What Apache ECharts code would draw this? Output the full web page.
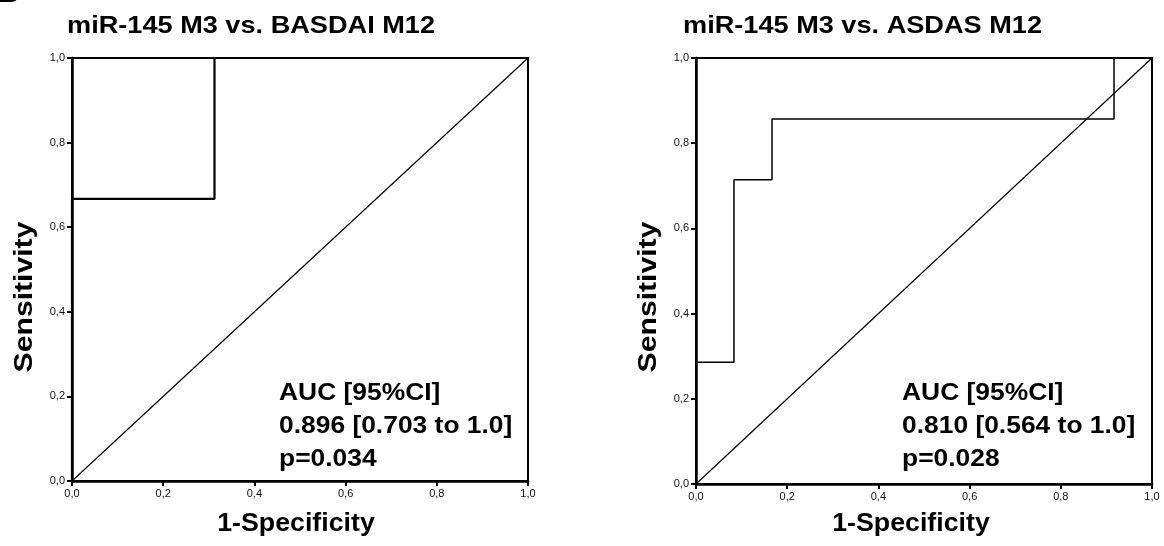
<!DOCTYPE html>
<html>
<head>
<meta charset="utf-8">
<script src="https://cdn.jsdelivr.net/npm/echarts@6/dist/echarts.min.js"></script>
<style>html,body{margin:0;padding:0;background:#fff}#c{width:1164px;height:546px}</style>
</head>
<body>
<div id="c"></div>
<script>
// ---- data ----
const titles = ['miR-145 M3 vs. BASDAI M12', 'miR-145 M3 vs. ASDAS M12'];
const xAxisTitle = '1-Specificity';
const yAxisTitle = 'Sensitivity';
const tickValues = [0, 0.2, 0.4, 0.6, 0.8, 1.0];
// ROC curve 1 (BASDAI)
const roc1FPR = [0, 0, 0.3125, 0.3125, 1];
const roc1TPR = [0, 0.667, 0.667, 1, 1];
// ROC curve 2 (ASDAS)
const roc2FPR = [0, 0, 0.0833, 0.0833, 0.1667, 0.1667, 0.9167, 0.9167, 1];
const roc2TPR = [0, 0.2857, 0.2857, 0.7143, 0.7143, 0.8571, 0.8571, 1, 1];
const refFPR = [0, 1];
const refTPR = [0, 1];
const stats1 = ['AUC [95%CI]', '0.896 [0.703 to 1.0]', 'p=0.034'];
const stats2 = ['AUC [95%CI]', '0.810 [0.564 to 1.0]', 'p=0.028'];
const panelLetter = 'B';

const FONT = 'Liberation Sans, Arial, sans-serif';
const zip = (a, b) => a.map((v, i) => [v, b[i]]);
const fmt = v => v.toFixed(1).replace('.', ',');

function xAx(gi) {
  return {
    gridIndex: gi, type: 'value', min: tickValues[0], max: tickValues[tickValues.length - 1], interval: 0.2,
    axisLine: {show: true, lineStyle: {color: '#000', width: 2.5}},
    axisTick: {show: true, length: 5, lineStyle: {color: '#000', width: 2}},
    axisLabel: {formatter: fmt, fontFamily: FONT, fontSize: 11, color: '#111', margin: 7},
    splitLine: {show: false}
  };
}
function yAx(gi) {
  return {
    gridIndex: gi, type: 'value', min: tickValues[0], max: tickValues[tickValues.length - 1], interval: 0.2,
    axisLine: {show: true, lineStyle: {color: '#000', width: 2.5}},
    axisTick: {show: true, length: 5, lineStyle: {color: '#000', width: 2}},
    axisLabel: {formatter: fmt, fontFamily: FONT, fontSize: 11, color: '#111', margin: 7},
    splitLine: {show: false}
  };
}
function lineS(gi, data, w) {
  return {type: 'line', xAxisIndex: gi, yAxisIndex: gi, data: data, showSymbol: false,
    symbol: 'none', lineStyle: {color: '#000', width: w}, animation: false, z: 3};
}
function txt(text, x, y, size, sx, opts) {
  opts = opts || {};
  return {type: 'text', x: x, y: y, scaleX: sx, scaleY: 1, rotation: opts.rot || 0, z: 10,
    style: {text: text, fontFamily: FONT, fontWeight: 'bold', fontSize: size, fill: '#000',
      align: opts.align || 'left', verticalAlign: 'middle'}};
}

const panels = [
  {title: titles[0], stats: stats1, titleX: 67, statX: 279, xCenter: 296, yNameX: 25},
  {title: titles[1], stats: stats2, titleX: 683, statX: 902, xCenter: 911, yNameX: 649}
];
const graphics = [txt(panelLetter, -3, -6, 28, 1.1)];
panels.forEach(p => {
  graphics.push(txt(p.title, p.titleX, 26.5, 23, 1.18));
  p.stats.forEach((s, i) => graphics.push(txt(s, p.statX, 393 + i * 33, 24, 1.1)));
  graphics.push(txt(xAxisTitle, p.xCenter, 524, 25, 1.07, {align: 'center'}));
  graphics.push(txt(yAxisTitle, p.yNameX, 297, 26, 1.16, {align: 'center', rot: Math.PI / 2}));
});

const chart = echarts.init(document.getElementById('c'), null, {renderer: 'canvas'});
chart.setOption({
  backgroundColor: '#fff',
  animation: false,
  grid: [
    {left: 72, right: 636, top: 58, bottom: 65, show: true, borderColor: '#000', borderWidth: 2, backgroundColor: 'transparent'},
    {left: 696, right: 12, top: 58, bottom: 62, show: true, borderColor: '#000', borderWidth: 2, backgroundColor: 'transparent'}
  ],
  xAxis: [xAx(0), xAx(1)],
  yAxis: [yAx(0), yAx(1)],
  series: [
    lineS(0, zip(refFPR, refTPR), 1.2),
    lineS(0, zip(roc1FPR, roc1TPR), 2.2),
    lineS(1, zip(refFPR, refTPR), 1.2),
    lineS(1, zip(roc2FPR, roc2TPR), 1.5)
  ],
  graphic: graphics
});
</script>
</body>
</html>
